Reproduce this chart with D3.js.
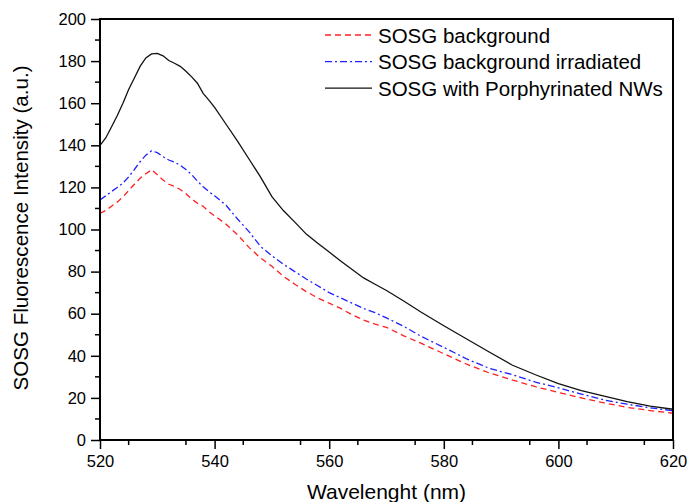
<!DOCTYPE html>
<html>
<head>
<meta charset="utf-8">
<script src="https://cdn.jsdelivr.net/npm/d3@7"></script>
<style>
  html, body { margin: 0; padding: 0; background: #fff; }
  svg { display: block; font-family: "Liberation Sans", Arial, sans-serif; }
</style>
</head>
<body>
<svg id="chart" width="688" height="502"></svg>
<script>
// Emission wavelengths (nm)
const wavelength = [520,521,522,523,524,525,526,527,528,529,530,531,532,533,534,535,536,537,538,539,540,
  542,544,546,548,550,552,554,556,558,560,562,564,566,568,570,573,576,580,584,588,592,596,600,604,608,612,616,620];

// SOSG fluorescence intensity (a.u.)
const sosgBackground = [107.7,109,111,113,115.5,118.5,121.5,124.3,126.5,128.4,126,123.5,121.5,120.5,119,117,114.5,112.5,111,108.5,106.5,
  102.5,97.5,91.5,86.5,82.5,77.8,74,70.5,67.5,65,62.5,59.5,57,55,53.5,49.5,46,41,36,31.8,28.5,25.3,22.6,20,17.6,15.5,14,12.7];
const sosgIrradiated = [114,116,118,120,122,125,128.5,132.2,135.3,137.4,136.5,134.6,133,132,130.5,128.5,126,123,120.3,118,116,
  111.5,105,99,92,87.5,83.5,80,76.5,73.3,70,67.5,65,62.5,60.5,58,54,49.3,44,38.5,34,31,27.5,24.8,21.8,19,17,15.3,13.9];
const sosgPorphyrinNWs = [140,143.5,148.7,154,160,166.5,172,177.5,181.5,183.4,183.7,182.5,180.3,179,177.5,175.2,172.5,169.5,164.7,161.5,158,
  150,142,133.5,125,115.6,109,103.5,97.8,93.5,89.3,85,81,77,74,71,66,60.8,54.3,48,41.7,35.5,31,26.8,23.5,20.8,18.2,16.1,14.6];

const seriesNames = ["SOSG background", "SOSG background irradiated", "SOSG with Porphyrinated NWs"];
const seriesColors = ["#ff2020", "#2020ff", "#111111"];
const seriesDash = ["6,4", "7,3,2,3", null];
const seriesValues = [sosgBackground, sosgIrradiated, sosgPorphyrinNWs];

const xTicks = [520, 540, 560, 580, 600, 620];
const yTicks = [0, 20, 40, 60, 80, 100, 120, 140, 160, 180, 200];

const margin = {left: 100, right: 15, top: 19, bottom: 62};
const W = 688, H = 502;
const svg = d3.select("#chart");

const x = d3.scaleLinear().domain([520, 620]).range([margin.left, W - margin.right]);
const y = d3.scaleLinear().domain([0, 200]).range([H - margin.bottom, margin.top]);

// Plot curves
const line = d3.line().x(d => x(d[0])).y(d => y(d[1]));
seriesValues.forEach((vals, i) => {
  svg.append("path")
    .datum(wavelength.map((w, j) => [w, vals[j]]))
    .attr("fill", "none")
    .attr("stroke", seriesColors[i])
    .attr("stroke-width", 1.3)
    .attr("stroke-dasharray", seriesDash[i])
    .attr("d", line);
});

// Minor ticks
const minorX = d3.range(525, 620, 10);
const minorY = d3.range(10, 200, 20);
svg.append("g").selectAll("line").data(minorX).join("line")
  .attr("x1", d => x(d)).attr("x2", d => x(d))
  .attr("y1", y(0)).attr("y2", y(0) + 5)
  .attr("stroke", "#000").attr("stroke-width", 1.5);
svg.append("g").selectAll("line").data(minorY).join("line")
  .attr("y1", d => y(d)).attr("y2", d => y(d))
  .attr("x1", x(520)).attr("x2", x(520) - 5)
  .attr("stroke", "#000").attr("stroke-width", 1.5);

// Axes
const xAxis = svg.append("g")
  .attr("transform", `translate(0,${y(0)})`)
  .call(d3.axisBottom(x).tickValues(xTicks).tickSize(9).tickSizeOuter(0).tickPadding(6));
const yAxis = svg.append("g")
  .attr("transform", `translate(${x(520)},0)`)
  .call(d3.axisLeft(y).tickValues(yTicks).tickSize(9).tickSizeOuter(0).tickPadding(5));
[xAxis, yAxis].forEach(g => {
  g.select(".domain").remove();
  g.selectAll(".tick line").attr("stroke", "#000").attr("stroke-width", 1.5);
  g.selectAll(".tick text").attr("fill", "#000").style("font-size", "16.5px")
    .style("font-family", "'Liberation Sans', Arial, sans-serif");
});

// Frame
svg.append("rect")
  .attr("x", x(520)).attr("y", y(200))
  .attr("width", x(620) - x(520)).attr("height", y(0) - y(200))
  .attr("fill", "none").attr("stroke", "#000").attr("stroke-width", 2);

// Axis titles
svg.append("text")
  .attr("x", (x(520) + x(620)) / 2).attr("y", 499)
  .attr("text-anchor", "middle").style("font-size", "21px")
  .text("Wavelenght (nm)");
svg.append("text")
  .attr("transform", `translate(27.5,228) rotate(-90)`)
  .attr("text-anchor", "middle").style("font-size", "20.6px")
  .text("SOSG Fluorescence Intensity (a.u.)");

// Legend
const legend = svg.append("g").attr("transform", "translate(325,35)");
seriesNames.forEach((name, i) => {
  const row = legend.append("g").attr("transform", `translate(0,${i * 26.6})`);
  row.append("line")
    .attr("x1", 0).attr("x2", 47).attr("y1", 0).attr("y2", 0)
    .attr("stroke", seriesColors[i]).attr("stroke-width", 1.3)
    .attr("stroke-dasharray", seriesDash[i]);
  row.append("text")
    .attr("x", 53).attr("y", 7.5)
    .style("font-size", "20.5px")
    .text(name);
});
</script>
</body>
</html>
